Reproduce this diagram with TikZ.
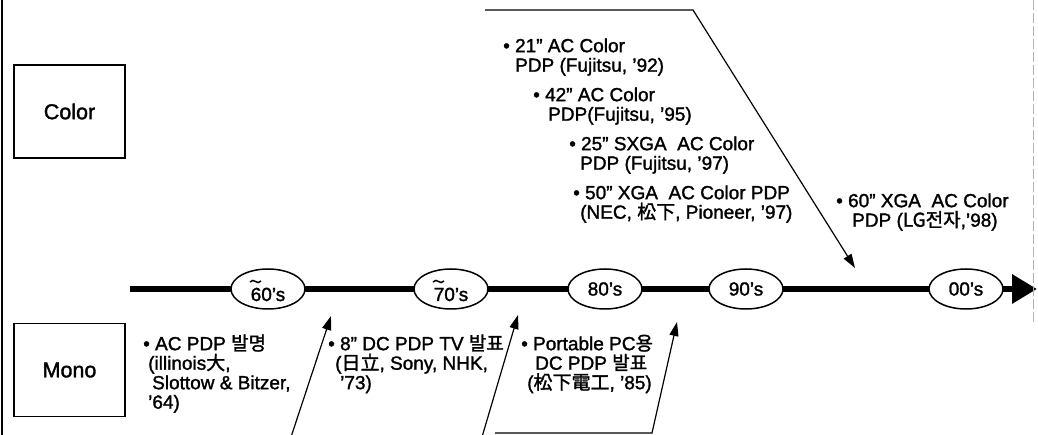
\documentclass[tikz,border=0pt]{standalone}
\usepackage{fontspec}
\setmainfont{Liberation Sans}[FakeBold=1.5]
\newfontfamily\kr{Noto Sans CJK KR}[FakeBold=1.5]
\usetikzlibrary{arrows.meta,shapes.geometric,backgrounds}
\newcommand\myfs{\fontsize{19}{19.5}\selectfont}
\newcommand\st{\rule{0pt}{17pt}}
\begin{document}
\begin{tikzpicture}[x=1pt,y=-1pt,
  every node/.style={font=\myfs},
  catbox/.style={draw, line width=1.5pt, minimum width=111pt, minimum height=93pt, inner sep=0, font=\fontsize{21.5}{24}\selectfont},
  era/.style={draw, ellipse, line width=1.5pt, fill=white, minimum width=74pt, minimum height=40pt, inner sep=0},
  item/.style={align=left, anchor=north west, inner sep=0},
  axis/.style={line width=6.5pt},
  ptr/.style={line width=1.2pt, -{Triangle[length=14pt,width=9pt]}},
  tld/.style={line width=1.5pt}
]
\useasboundingbox (0,0) rectangle (1038,435);
% page edges
\draw[line width=2pt] (1.5,0) -- (1.5,435);
\draw[gray!60, line width=1pt, dash pattern=on 10pt off 3pt] (1033,0) -- (1033,323);

% category boxes
\node[catbox] (color) at (69.5,111.5) {Color};
\node[catbox] (mono) at (69.5,370) {Mono};

% era ellipses
\node[era] (e60) at (268,289) {\raisebox{-12pt}[0pt][0pt]{60’s}};
\node[era] (e70) at (451,289) {\raisebox{-12pt}[0pt][0pt]{70’s}};
\node[era] (e80) at (605,289) {80’s};
\node[era] (e90) at (746,289) {90’s};
\node[era] (e00) at (966,289) {00’s};
\coordinate (tl0) at (130,289);
\coordinate (tlend) at (1037,289);

% tildes over the first digit
\draw[tld] (e60.center) ++(-18,-7) .. controls +(4,-5) and +(-4,5) .. ++(11,-1);
\draw[tld] (e70.center) ++(-18,-7) .. controls +(4,-5) and +(-4,5) .. ++(11,-1);

\begin{scope}[on background layer]
\draw[axis] (tl0) -- (e60.center) -- (e70.center) -- (e80.center) -- (e90.center) -- (e00.center);
\draw[axis, -{Triangle[length=25pt,width=28pt]}] (e00.center) -- (tlend);
\end{scope}

% colour items
\node[item] (c21) at (503,35) {\st• 21” AC Color\\\hspace*{12pt}PDP (Fujitsu, ’92)};
\node[item] (c42) at (533,84) {\st• 42” AC Color\\\hspace*{15pt}PDP(Fujitsu, ’95)};
\node[item] (c25) at (569,133) {\st• 25” SXGA\ \ AC Color\\\hspace*{11pt}PDP (Fujitsu, ’97)};
\node[item] (c50) at (573,182) {\st• 50” XGA\ \ AC Color PDP\\\hspace*{7pt}(NEC, {\kr 松下}, Pioneer, ’97)};
\node[item] (c60) at (836,190) {\st• 60” XGA\ \ AC Color\\\hspace*{16pt}PDP ({\kr LG전자},’98)};

% mono items
\node[item] (m60) at (143,333) {\st• AC PDP {\kr 발명}\\\hspace*{5pt}(illinois{\kr 大},\\\hspace*{9pt}Slottow \& Bitzer,\\\hspace*{5pt}’64)};
\node[item] (m70) at (328,333) {\st• 8” DC PDP TV {\kr 발표}\\\hspace*{7pt}({\kr 日立}, Sony, NHK,\\\hspace*{12pt}’73)};
\node[item] (m80) at (521,333) {\st• Portable PC{\kr 용}\\\hspace*{14pt}DC PDP {\kr 발표}\\\hspace*{6pt}({\kr 松下電工}, ’85)};

% pointers
\coordinate (a1) at (485,10);
\coordinate (a2) at (693,10);
\coordinate (a3) at (855,268);
\draw[ptr] (a1) -- (a2) -- (a3);
\coordinate (b1s) at (291,437);
\coordinate (b1t) at (331,316);
\draw[ptr] (b1s) -- (b1t);
\coordinate (b2s) at (482,437);
\coordinate (b2t) at (518,315);
\draw[ptr] (b2s) -- (b2t);
\coordinate (b3a) at (495,433);
\coordinate (b3b) at (652,433);
\coordinate (b3t) at (677,322);
\draw[ptr] (b3a) -- (b3b) -- (b3t);
\end{tikzpicture}
\end{document}
